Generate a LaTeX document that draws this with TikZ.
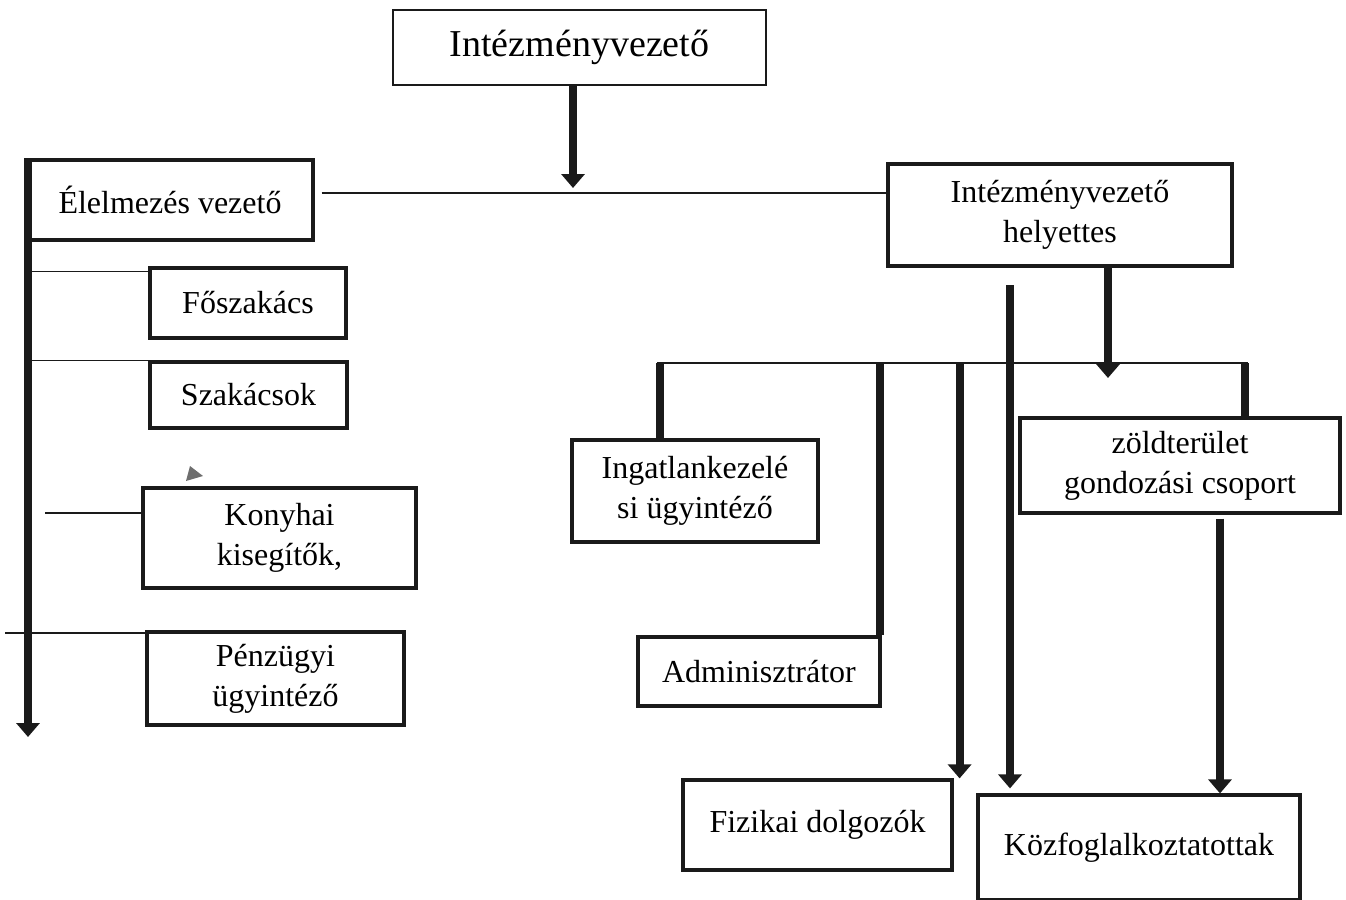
\documentclass[tikz,border=0pt]{standalone}
\usepackage{fontspec}
\setmainfont{Liberation Serif}
\usepackage{xcolor}
\usepackage{tikz}
\usetikzlibrary{positioning, arrows.meta}
\definecolor{inkblack}{HTML}{1A1A1A}
\definecolor{straygray}{HTML}{6E6E6E}
\tikzset{
  orgbox/.style={draw=inkblack, line width=1.6pt, inner sep=0pt, align=center,
    font=\fontsize{16}{20}\selectfont},
  linkline/.style={draw=inkblack, line width=0.9pt},
  stemline/.style={draw=inkblack, line width=4pt},
  stemarrow/.style={stemline, -{Triangle[width=11.5pt, length=7pt]}}
}

\begin{document}
\begin{tikzpicture}[x=0.5pt, y=-0.5pt]
    \useasboundingbox (0,0) rectangle (1346,900);
    % boxes
    \node[orgbox, line width=1pt, minimum width=186.5pt, minimum height=37.5pt,
          font=\fontsize{19}{23}\selectfont] (chief) at (579.5,47.5) {Intézményvezető};
    \node[orgbox, minimum width=143pt, minimum height=40pt] (elel) at (170,200) {Élelmezés vezető};
    \node[orgbox, minimum width=172pt, minimum height=51pt] (helyettes) at (1060,215) {Intézményvezető\\helyettes};
    \node[orgbox, minimum width=98pt, minimum height=35pt] (fosz) at (248,303) {Főszakács};
    \node[orgbox, minimum width=98.5pt, minimum height=33pt] (szak) at (248.5,395) {Szakácsok};
    \node[orgbox, minimum width=136.5pt, minimum height=50pt] (konyha) at (279.5,538) {Konyhai\\kisegítők,};
    \node[orgbox, minimum width=128.5pt, minimum height=46.5pt] (penz) at (275.5,678.5) {Pénzügyi\\ügyintéző};
    \node[orgbox, minimum width=123pt, minimum height=51pt] (ingatlan) at (695,491) {Ingatlankezelé\\si ügyintéző};
    \node[orgbox, minimum width=121pt, minimum height=34.5pt] (admin) at (759,671.5) {Adminisztrátor};
    \node[orgbox, minimum width=160pt, minimum height=47.5pt] (zold) at (1180,465.5) {zöldterület\\gondozási csoport};
    \node[orgbox, minimum width=134.5pt, minimum height=45pt] (fizikai) at (817.5,825) {Fizikai dolgozók};
    \node[orgbox, minimum width=161pt, minimum height=52.5pt] (kozf) at (1139,847.5) {Közfoglalkoztatottak};

    % free ends
    \coordinate (chiefdrop) at (573,188);
    \coordinate (spineend) at (28,737);
    \coordinate (konyhaend) at (45,513);
    \coordinate (penzend) at (5,633);
    \coordinate (busl) at (660,363);
    \coordinate (busr) at (1245,363);
    \coordinate (hdrop) at (1108,378);
    \coordinate (kstart) at (1010,285);

    % top level
    \draw[stemarrow] (chiefdrop |- chief.south) -- (chiefdrop);
    \draw[linkline] ([xshift=3.5pt, yshift=3.5pt]elel.east) -- ([yshift=3.5pt]elel.east -| helyettes.west);

    % kitchen side
    \draw[stemarrow] (spineend |- elel.north) -- (spineend);
    \draw[linkline] ([yshift=-2.5pt]fosz.north west) -- ([yshift=-2.5pt]fosz.north west -| spineend);
    \draw[linkline] (szak.north west) -- (szak.north west -| spineend);
    \draw[linkline] (konyhaend) -- (konyhaend -| konyha.west);
    \draw[linkline] (penzend) -- (penzend -| penz.west);
    \fill[straygray] (186,481) -- (190,466) -- (203,476) -- cycle;

    % deputy side
    \draw[linkline] ([xshift=-1.5pt]busl) -- ([xshift=1.5pt]busr);
    \draw[stemline] (busl) -- (busl |- ingatlan.north);
    \draw[stemline] (busr) -- (busr |- zold.north);
    \draw[stemline] ([xshift=-1pt]admin.north east |- busl) -- ([xshift=-1pt]admin.north east);
    \draw[stemarrow] ([xshift=3pt]fizikai.north east |- busl) -- ([xshift=3pt]fizikai.north east);
    \draw[stemarrow] (hdrop |- helyettes.south) -- (hdrop);
    \draw[stemarrow] (kstart) -- ([yshift=2.5pt]kstart |- kozf.north);
    \draw[stemarrow] ([xshift=20pt, yshift=-2pt]zold.south) -- ([xshift=20pt]zold.south |- kozf.north);
\end{tikzpicture}
\end{document}
